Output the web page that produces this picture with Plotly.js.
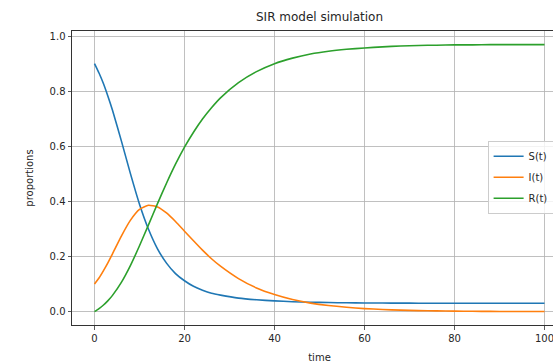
<!DOCTYPE html>
<html>
<head>
<meta charset="utf-8">
<script src="https://cdn.plot.ly/plotly-3.0.1.min.js"></script>
<style>
html,body{margin:0;padding:0;overflow:hidden;background:#fff;}
#chart{width:597px;height:363px;}
</style>
</head>
<body>
<div id="chart"></div>
<script>
// Time points (days)
const time = [0, 1, 2, 3, 4, 6, 8, 10, 12, 14, 16, 18, 20, 22, 24, 26, 28, 32, 36, 40, 44, 48, 52, 56, 60, 64, 68, 72, 76, 80, 84, 88, 92, 96, 100];
// Susceptible proportion S(t)
const S = [0.900, 0.866, 0.827, 0.781, 0.731, 0.618, 0.500, 0.390, 0.299, 0.228, 0.176, 0.138, 0.112, 0.092, 0.078, 0.067, 0.060, 0.049, 0.043, 0.039, 0.036, 0.034, 0.033, 0.032, 0.0316, 0.0312, 0.0309, 0.0307, 0.0305, 0.0304, 0.0304, 0.0303, 0.0303, 0.0303, 0.0303];
// Infected proportion I(t)
const I = [0.100, 0.122, 0.149, 0.178, 0.210, 0.275, 0.332, 0.371, 0.386, 0.380, 0.358, 0.327, 0.292, 0.257, 0.223, 0.192, 0.165, 0.120, 0.086, 0.062, 0.044, 0.031, 0.022, 0.0157, 0.0111, 0.0078, 0.0054, 0.0038, 0.0027, 0.0019, 0.0013, 0.0009, 0.0006, 0.0004, 0.0003];
// Recovered proportion R(t)
const R = [0.000, 0.011, 0.024, 0.040, 0.059, 0.107, 0.168, 0.239, 0.315, 0.392, 0.466, 0.535, 0.597, 0.651, 0.699, 0.740, 0.776, 0.831, 0.871, 0.900, 0.920, 0.935, 0.945, 0.952, 0.957, 0.961, 0.964, 0.966, 0.967, 0.968, 0.968, 0.969, 0.969, 0.969, 0.969];

const seriesNames = ['S(t)', 'I(t)', 'R(t)'];
const seriesData = [S, I, R];
const seriesColors = ['#1f77b4', '#ff7f0e', '#2ca02c'];
const xTicks = [0, 20, 40, 60, 80, 100];
const yTicks = [0.0, 0.2, 0.4, 0.6, 0.8, 1.0];

const traces = seriesData.map((ys, k) => ({
  x: time, y: ys, type: 'scatter', mode: 'lines', name: seriesNames[k],
  legendgroup: 'g' + k,
  line: {color: seriesColors[k], width: 1.6, shape: 'spline', smoothing: 0.5}
}));

const font = {family: 'DejaVu Sans, sans-serif', size: 10, color: '#262626'};

const layout = {
  width: 597, height: 363,
  margin: {l: 72, r: 30, t: 31, b: 37.5, pad: 0},
  paper_bgcolor: '#fff', plot_bgcolor: '#fff',
  font: font,
  title: {text: 'SIR model simulation', font: {family: 'DejaVu Sans, sans-serif', size: 12, color: '#262626'},
          x: 0.5, xref: 'paper', xanchor: 'center', y: 1 - 17/363, yref: 'container', yanchor: 'middle'},
  showlegend: true,
  legend: {x: 0.8396, y: 0.6265, xanchor: 'left', yanchor: 'top', tracegroupgap: 2,
           bgcolor: 'rgba(255,255,255,0.8)', bordercolor: '#cccccc', borderwidth: 1,
           font: {family: 'DejaVu Sans, sans-serif', size: 10, color: '#262626'}},
  xaxis: {range: [-5, 105], tickvals: xTicks, ticktext: xTicks.map(String),
          showgrid: true, gridcolor: '#b0b0b0', gridwidth: 0.8, zeroline: false,
          showline: true, linecolor: '#333', linewidth: 1, mirror: true,
          ticks: 'outside', ticklen: 3.5, tickwidth: 0.8, tickcolor: '#333',
          title: {text: 'time', standoff: 11, font: font}},
  yaxis: {range: [-0.0485, 1.0185], tickvals: yTicks, ticktext: yTicks.map(v => v.toFixed(1)),
          showgrid: true, gridcolor: '#b0b0b0', gridwidth: 0.8, zeroline: false,
          showline: true, linecolor: '#333', linewidth: 1, mirror: true,
          ticks: 'outside', ticklen: 3.5, tickwidth: 0.8, tickcolor: '#333',
          title: {text: 'proportions', standoff: 14, font: font}}
};

Plotly.newPlot('chart', traces, layout, {displayModeBar: false, staticPlot: true});
</script>
</body>
</html>
